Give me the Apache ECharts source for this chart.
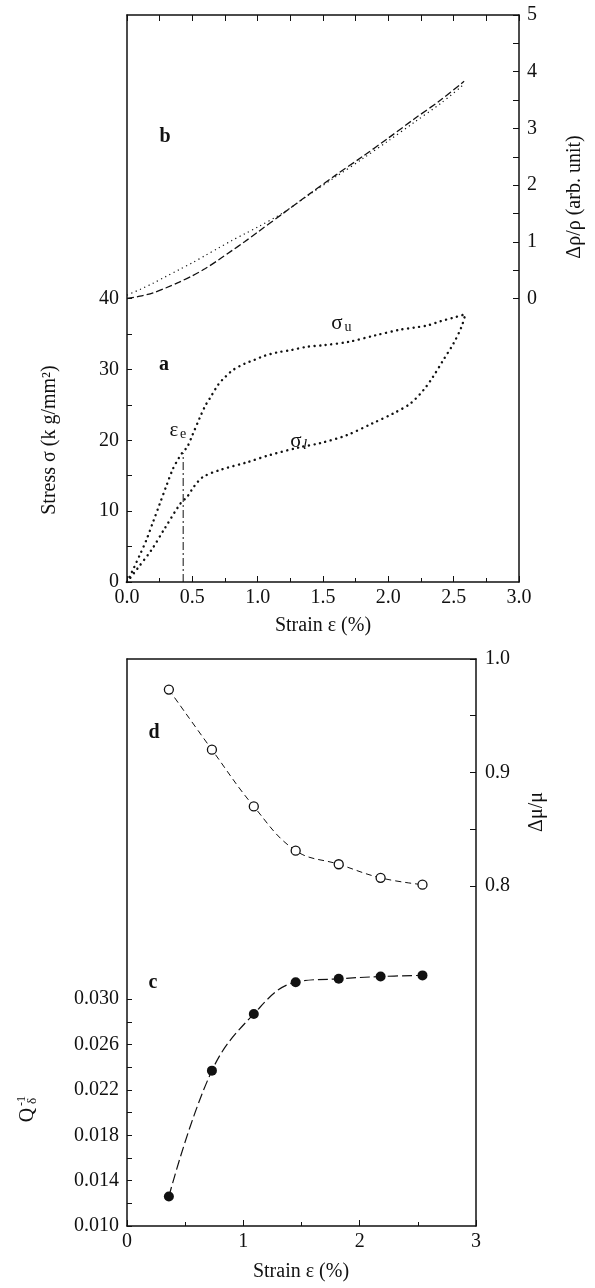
<!DOCTYPE html>
<html><head><meta charset="utf-8">
<script src="https://cdn.jsdelivr.net/npm/echarts@6/dist/echarts.min.js"></script>
<style>html,body{margin:0;padding:0;background:#fff}#c{width:595px;height:1288px}</style>
</head><body><div id="c"></div><script>
// ---- data ----
const strainB   = [0, 0.1, 0.2, 0.3, 0.4, 0.5, 0.6, 0.7, 0.8, 0.9, 1.0, 1.2, 1.4, 1.6, 1.8, 2.0, 2.2, 2.4, 2.58];
const rhoDashed = [0, 0.04, 0.10, 0.19, 0.29, 0.40, 0.53, 0.68, 0.84, 1.00, 1.17, 1.51, 1.85, 2.18, 2.50, 2.83, 3.17, 3.50, 3.83];
const rhoDotted = [0.06, 0.16, 0.27, 0.39, 0.51, 0.63, 0.76, 0.89, 1.02, 1.14, 1.26, 1.52, 1.84, 2.15, 2.46, 2.78, 3.11, 3.44, 3.78];

const strainU = [0, 0.05, 0.1, 0.15, 0.2, 0.25, 0.3, 0.35, 0.4, 0.43, 0.46, 0.5, 0.56, 0.6, 0.64, 0.7, 0.75, 0.81, 0.9, 0.97, 1.05, 1.15, 1.25, 1.38, 1.5, 1.7, 1.9, 2.09, 2.2, 2.3, 2.4, 2.5, 2.59];
const sigmaU  = [0, 1.9, 3.9, 6.0, 8.5, 11.0, 13.5, 15.9, 17.6, 18.4, 19.0, 20.7, 23.3, 24.9, 26.1, 27.9, 28.9, 29.9, 30.8, 31.3, 31.9, 32.4, 32.7, 33.2, 33.4, 33.9, 34.8, 35.6, 35.9, 36.2, 36.8, 37.3, 37.8];

const strainL = [0, 0.08, 0.19, 0.28, 0.41, 0.46, 0.51, 0.58, 0.71, 0.92, 1.09, 1.32, 1.48, 1.68, 1.88, 2.04, 2.17, 2.27, 2.34, 2.42, 2.50, 2.56, 2.59];
const sigmaL  = [0, 1.9, 4.6, 7.3, 11.1, 12.0, 13.4, 14.8, 15.8, 16.9, 17.9, 19.0, 19.6, 20.7, 22.4, 23.8, 25.2, 27.1, 28.9, 31.3, 33.7, 36.0, 37.8];

const epsE = [0.43, 0.43];
const sigE = [0, 18.2];

const strainCD = [0.36, 0.73, 1.09, 1.45, 1.82, 2.18, 2.54];
const muD      = [0.973, 0.920, 0.870, 0.831, 0.819, 0.807, 0.801];
const qC       = [0.0126, 0.0237, 0.0287, 0.0315, 0.0318, 0.0320, 0.0321];

// tick values
const stressTicks = [0, 5, 10, 15, 20, 25, 30, 35, 40];
const stressLabels = [0, 10, 20, 30, 40];
const rhoLabels = [0, 1, 2, 3, 4, 5];
const rhoTicks = [0, 0.5, 1, 1.5, 2, 2.5, 3, 3.5, 4, 4.5, 5];
const qLabels = [0.010, 0.014, 0.018, 0.022, 0.026, 0.030];
const qTicks = [0.010, 0.012, 0.014, 0.016, 0.018, 0.020, 0.022, 0.024, 0.026, 0.028, 0.030];
const muLabels = [0.8, 0.9, 1.0];
const muTicks = [0.8, 0.85, 0.9, 0.95, 1.0];

const pairs = (xs, ys) => xs.map((x, i) => [x, ys[i]]);
const FONT = 'Liberation Serif';
const FS = 20;
const BLK = '#111';
const lbl = {fontFamily: FONT, fontSize: FS, color: BLK};
const axLine = {show: true, onZero: false, lineStyle: {color: BLK, width: 1.5}};
const F = (s, extra) => (extra ? extra + ' ' : '') + s + 'px "Liberation Serif"';

const chart = echarts.init(document.getElementById('c'), null, {renderer: 'canvas'});
const option = {
  animation: false,
  backgroundColor: '#fff',
  grid: [
    {left: 127, top: 15, width: 392, height: 567},
    {left: 127, top: 659, width: 349, height: 567}
  ],
  xAxis: [
    {gridIndex: 0, type: 'value', min: 0, max: 3, interval: 0.5, position: 'bottom',
     axisLine: axLine, splitLine: {show: false},
     axisTick: {inside: true, length: 6, lineStyle: {color: BLK}},
     minorTick: {show: true, splitNumber: 2, length: 4, lineStyle: {color: BLK}},
     axisLabel: Object.assign({margin: 6, formatter: v => v.toFixed(1)}, lbl)},
    {gridIndex: 0, type: 'value', min: 0, max: 3, interval: 0.25, position: 'top',
     axisLine: axLine, splitLine: {show: false},
     axisTick: {inside: true, length: 6, lineStyle: {color: BLK}},
     axisLabel: {show: false}},
    {gridIndex: 1, type: 'value', min: 0, max: 3, interval: 1, position: 'bottom',
     axisLine: axLine, splitLine: {show: false},
     axisTick: {inside: true, length: 6, lineStyle: {color: BLK}},
     minorTick: {show: true, splitNumber: 2, length: 4, lineStyle: {color: BLK}},
     axisLabel: Object.assign({margin: 6, formatter: v => String(v)}, lbl)},
    {gridIndex: 1, type: 'value', min: 0, max: 3, position: 'top',
     axisLine: axLine, splitLine: {show: false}, axisTick: {show: false}, axisLabel: {show: false}}
  ],
  yAxis: [
    {gridIndex: 0, type: 'value', min: 0, max: 80, position: 'left',
     axisLine: axLine, splitLine: {show: false},
     axisTick: {inside: true, length: 5, customValues: stressTicks, lineStyle: {color: BLK}},
     axisLabel: Object.assign({margin: 8, customValues: stressLabels}, lbl)},
    {gridIndex: 0, type: 'value', min: -5, max: 5, position: 'right',
     axisLine: axLine, splitLine: {show: false},
     axisTick: {inside: true, length: 6, customValues: rhoTicks, lineStyle: {color: BLK}},
     axisLabel: Object.assign({margin: 8, customValues: rhoLabels}, lbl)},
    {gridIndex: 1, type: 'value', min: 0.010, max: 0.060, position: 'left',
     axisLine: axLine, splitLine: {show: false},
     axisTick: {inside: true, length: 5, customValues: qTicks, lineStyle: {color: BLK}},
     axisLabel: Object.assign({margin: 8, customValues: qLabels, formatter: v => v.toFixed(3)}, lbl)},
    {gridIndex: 1, type: 'value', min: 0.5, max: 1.0, position: 'right',
     axisLine: axLine, splitLine: {show: false},
     axisTick: {inside: true, length: 6, customValues: muTicks, lineStyle: {color: BLK}},
     axisLabel: Object.assign({margin: 9, customValues: muLabels, formatter: v => v.toFixed(1)}, lbl)}
  ],
  series: [
    {type: 'line', xAxisIndex: 0, yAxisIndex: 1, data: pairs(strainB, rhoDashed), showSymbol: false, smooth: 0.3,
     lineStyle: {color: BLK, width: 1.3, type: [7, 3]}},
    {type: 'line', xAxisIndex: 0, yAxisIndex: 1, data: pairs(strainB, rhoDotted), showSymbol: false, smooth: 0.3,
     lineStyle: {color: BLK, width: 1.2, type: [1.2, 3.5]}},
    {type: 'line', xAxisIndex: 0, yAxisIndex: 0, data: pairs(strainU, sigmaU), showSymbol: false, smooth: 0.3,
     lineStyle: {color: BLK, width: 2.4, type: [0.1, 5.5], cap: 'round'}},
    {type: 'line', xAxisIndex: 0, yAxisIndex: 0, data: pairs(strainL, sigmaL), showSymbol: false, smooth: 0.3,
     lineStyle: {color: BLK, width: 2.4, type: [0.1, 5.5], cap: 'round'}},
    {type: 'line', xAxisIndex: 0, yAxisIndex: 0, data: pairs(epsE, sigE), showSymbol: false,
     lineStyle: {color: BLK, width: 1, type: [8, 3, 2, 3]}},
    {type: 'line', xAxisIndex: 2, yAxisIndex: 3, data: pairs(strainCD, muD), smooth: 0.4,
     symbol: 'circle', symbolSize: 9, showSymbol: true,
     itemStyle: {color: '#fff', borderColor: BLK, borderWidth: 1.3},
     lineStyle: {color: BLK, width: 1, type: [6, 4]}},
    {type: 'line', xAxisIndex: 2, yAxisIndex: 2, data: pairs(strainCD, qC), smooth: 0.4,
     symbol: 'circle', symbolSize: 10, showSymbol: true,
     itemStyle: {color: BLK, borderColor: BLK, borderWidth: 0},
     lineStyle: {color: BLK, width: 1.2, type: [10, 4]}}
  ],
  graphic: [
    {type: 'text', x: 323, y: 626, style: {text: 'Strain ε (%)', font: F(FS), fill: BLK, align: 'center', verticalAlign: 'middle'}},
    {type: 'text', x: 301, y: 1272, style: {text: 'Strain ε (%)', font: F(FS), fill: BLK, align: 'center', verticalAlign: 'middle'}},
    {type: 'text', x: 50, y: 440, rotation: Math.PI / 2, style: {text: 'Stress σ (k g/mm²)', font: F(FS), fill: BLK, align: 'center', verticalAlign: 'middle'}},
    {type: 'text', x: 575, y: 197, rotation: Math.PI / 2, style: {text: 'Δρ/ρ (arb. unit)', font: F(FS), fill: BLK, align: 'center', verticalAlign: 'middle'}},
    {type: 'text', x: 537, y: 812, rotation: Math.PI / 2, style: {text: 'Δμ/μ', font: F(FS), fill: BLK, align: 'center', verticalAlign: 'middle'}},
    {type: 'group', x: 28, y: 1106, rotation: Math.PI / 2, children: [
      {type: 'text', x: -9, y: 0, style: {text: 'Q', font: F(FS), fill: BLK, align: 'center', verticalAlign: 'middle'}},
      {type: 'text', x: 5, y: -6, style: {text: '-1', font: F(12), fill: BLK, align: 'center', verticalAlign: 'middle'}},
      {type: 'text', x: 5, y: 5, style: {text: 'δ', font: F(13), fill: BLK, align: 'center', verticalAlign: 'middle'}}
    ]},
    {type: 'text', x: 165, y: 137, style: {text: 'b', font: F(FS, 'bold'), fill: BLK, align: 'center', verticalAlign: 'middle'}},
    {type: 'text', x: 164, y: 365, style: {text: 'a', font: F(FS, 'bold'), fill: BLK, align: 'center', verticalAlign: 'middle'}},
    {type: 'text', x: 154, y: 733, style: {text: 'd', font: F(FS, 'bold'), fill: BLK, align: 'center', verticalAlign: 'middle'}},
    {type: 'text', x: 153, y: 983, style: {text: 'c', font: F(FS, 'bold'), fill: BLK, align: 'center', verticalAlign: 'middle'}},
    {type: 'text', x: 337, y: 323, style: {text: 'σ', font: F(21), fill: BLK, align: 'center', verticalAlign: 'middle'}},
    {type: 'text', x: 348, y: 327, style: {text: 'u', font: F(14), fill: BLK, align: 'center', verticalAlign: 'middle'}},
    {type: 'text', x: 296, y: 441, style: {text: 'σ', font: F(21), fill: BLK, align: 'center', verticalAlign: 'middle'}},
    {type: 'text', x: 305, y: 445, style: {text: 'l', font: F(15, 'italic'), fill: BLK, align: 'center', verticalAlign: 'middle'}},
    {type: 'text', x: 174, y: 430, style: {text: 'ε', font: F(21), fill: BLK, align: 'center', verticalAlign: 'middle'}},
    {type: 'text', x: 183, y: 434, style: {text: 'e', font: F(14), fill: BLK, align: 'center', verticalAlign: 'middle'}}
  ]
};
chart.setOption(option);
</script></body></html>
